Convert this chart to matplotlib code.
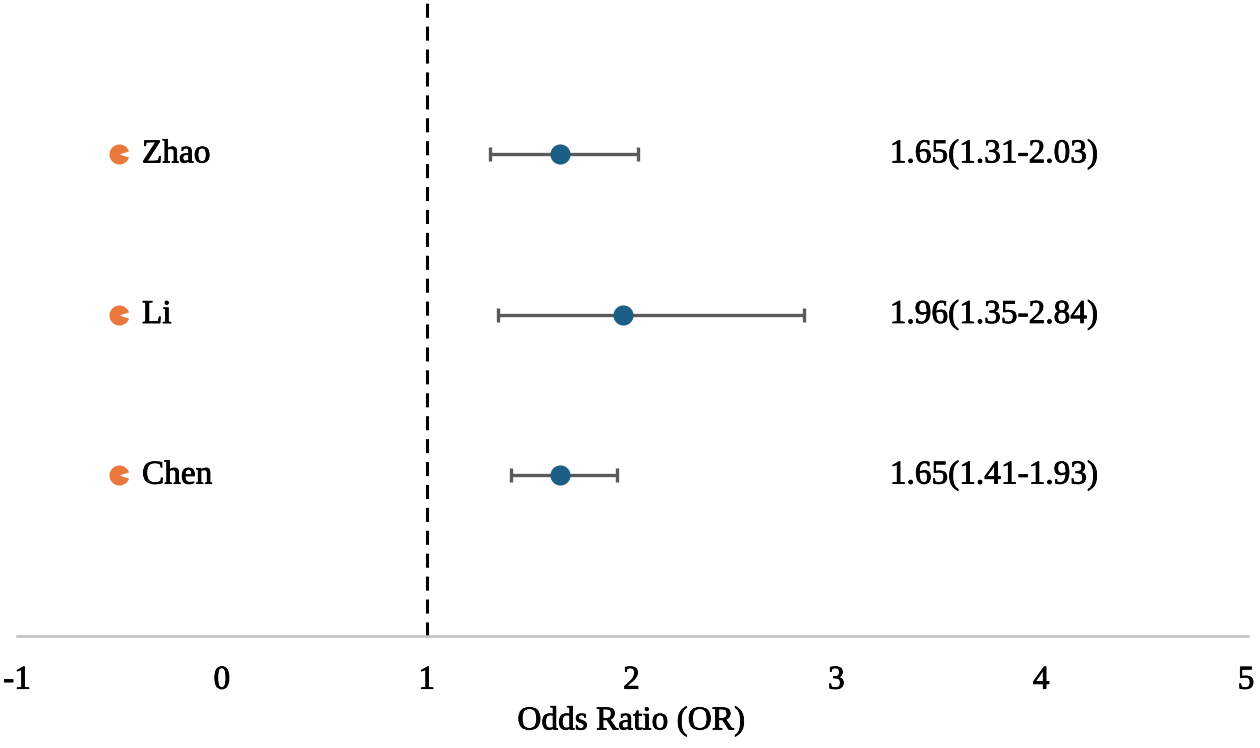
import matplotlib
matplotlib.use("Agg")
import matplotlib.pyplot as plt
import matplotlib.patheffects as pe
from matplotlib.path import Path

studies = ["Zhao", "Li", "Chen"]
or_values = [1.65, 1.96, 1.65]
ci_low = [1.31, 1.35, 1.41]
ci_high = [2.03, 2.84, 1.93]
ci_text = ["1.65(1.31-2.03)", "1.96(1.35-2.84)", "1.65(1.41-1.93)"]
x_ticks = [-1, 0, 1, 2, 3, 4, 5]

plt.rcParams['font.family'] = ['Liberation Serif', 'DejaVu Serif']

fig = plt.figure(figsize=(12.6, 7.48), dpi=100)
ax = fig.add_axes([17/1260, 1 - 636/748, (1246 - 17)/1260, 636/748])

n = len(studies)
ys = [n - i for i in range(n)]

xerr = [[o - l for o, l in zip(or_values, ci_low)],
        [h - o for o, h in zip(or_values, ci_high)]]

heavy = [pe.withStroke(linewidth=0.6, foreground='black')]

ax.axvline(1, color='black', lw=2.2, ls=(0, (4.6, 2.9)), zorder=1)

ax.errorbar(or_values, ys, xerr=xerr, fmt='none',
            ecolor='#5a5a5a', elinewidth=2.4, capsize=5, capthick=2.4,
            zorder=2)
ax.plot(or_values, ys, 'o', color='#1b5f87', markersize=14.5,
        markeredgewidth=0, zorder=3)

notch = Path.wedge(18, 342)
ax.scatter([-0.5] * n, ys, marker=notch, s=210, color='#e8793a', linewidths=0, zorder=3)

for y, name in zip(ys, studies):
    ax.text(-0.39, y, name, ha='left', va='center', fontsize=24, color='black',
            path_effects=heavy)

for y, t in zip(ys, ci_text):
    ax.text(3.77, y, t, ha='center', va='center', fontsize=24, color='black',
            path_effects=heavy)

ax.set_xlim(-1, 5)
ax.set_ylim(0, 3.96)
ax.set_xticks(x_ticks)
ax.set_xticklabels([str(t) for t in x_ticks], fontsize=24)
for lbl in ax.get_xticklabels():
    lbl.set_path_effects(heavy)
ax.tick_params(axis='x', length=0, pad=21)
ax.set_yticks([])
for s in ['top', 'right', 'left']:
    ax.spines[s].set_visible(False)
ax.spines['bottom'].set_color('#c0c0c0')
ax.spines['bottom'].set_linewidth(1.8)
ax.spines['bottom'].set_bounds(-1, 5.01)
xl = ax.set_xlabel("Odds Ratio (OR)", fontsize=24, labelpad=7)
xl.set_path_effects(heavy)

fig.savefig("out.png", dpi=100)
